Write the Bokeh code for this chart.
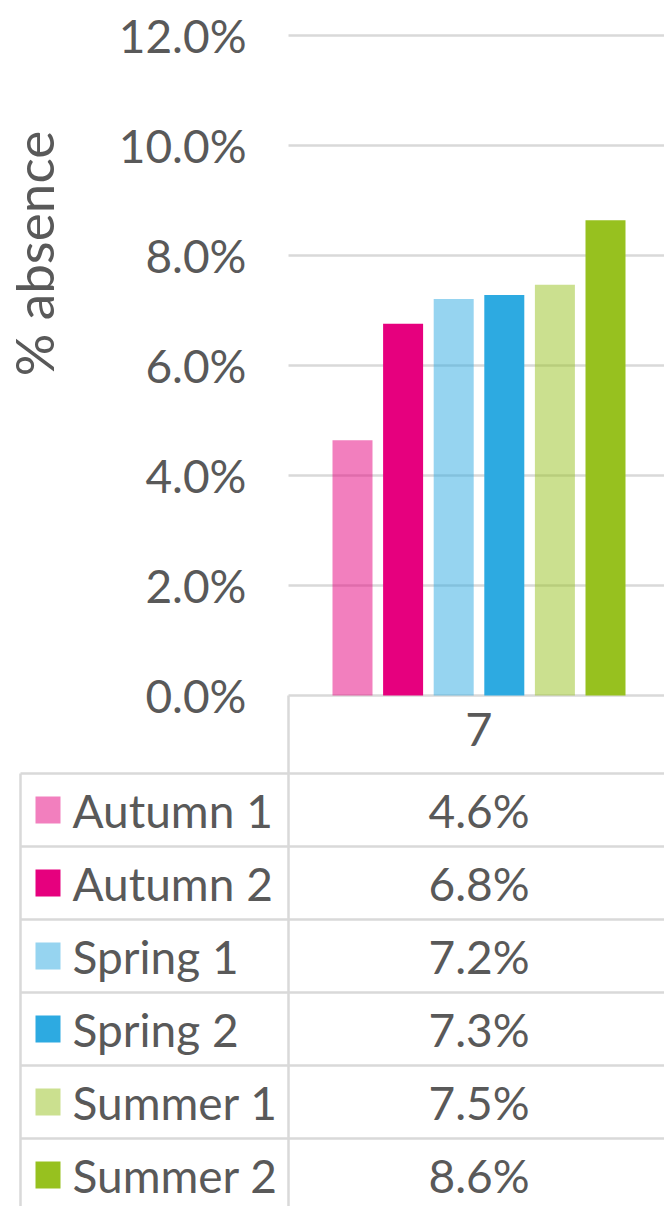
import math
from bokeh.plotting import figure
from bokeh.models import Range1d, FixedTicker, CustomJSTickFormatter, LinearAxis, ColumnDataSource, Grid
from bokeh.core.properties import value
from bokeh.embed import file_html
from bokeh.resources import INLINE

# ---- data ----
year_groups = ["7"]
terms = ["Autumn 1", "Autumn 2", "Spring 1", "Spring 2", "Summer 1", "Summer 2"]
absence = [4.64, 6.76, 7.21, 7.28, 7.47, 8.64]          # % absence, year 7
y_ticks = [0, 2, 4, 6, 8, 10, 12]
y_label = "% absence"

# ---- styles ----
colors = ["#E6007E", "#E6007E", "#2DAAE1", "#2DAAE1", "#97C11F", "#97C11F"]
alphas = [0.5, 1.0, 0.5, 1.0, 0.5, 1.0]
TXT = "#595959"
GRID = "#D9D9D9"
FONT = "Lato"

W, H = 664, 1206
PX0, PXW = 288, 381      # category column (page px)
PY0, PPU = 695, 55       # zero line (page px), px per 1 %

def xd(px):
    return (px - PX0) / PXW

def yd(py):
    return (PY0 - py) / PPU

p = figure(width=W, height=H,
           x_range=Range1d(xd(0), xd(W)), y_range=Range1d(yd(H), yd(0)),
           output_backend="svg", toolbar_location=None, tools="",
           x_axis_location=None, y_axis_location=None, min_border=0)
p.outline_line_color = None
p.background_fill_color = "white"
p.border_fill_color = "white"
p.center = [r for r in p.center if not isinstance(r, Grid)]

# gridlines (behind the bars)
p.segment(x0=[xd(288)] * len(y_ticks), x1=[xd(700)] * len(y_ticks),
          y0=y_ticks, y1=y_ticks, line_color=GRID, line_width=2.5, level="underlay")

# bars, dodged inside the single year-group column
n = len(terms)
step = 50.6 / PXW
offsets = [0.5 + (i - (n - 1) / 2) * step for i in range(n)]
bars = ColumnDataSource(dict(x=offsets, top=absence, color=colors, alpha=alphas, term=terms))
p.vbar(x="x", top="top", bottom=0, width=40 / PXW, source=bars,
       fill_color="color", fill_alpha="alpha", line_color=None)

# y axis inside the frame at the column's left edge
yax = LinearAxis(fixed_location=0, ticker=FixedTicker(ticks=y_ticks),
                 formatter=CustomJSTickFormatter(code="return tick.toFixed(1) + '%';"))
yax.axis_line_color = None
yax.major_tick_line_color = None
yax.minor_tick_line_color = None
yax.major_label_standoff = 36
yax.major_label_text_font = FONT
yax.major_label_text_font_size = "46px"
yax.major_label_text_color = TXT
p.add_layout(yax, "left")

# x axis (category label) at 0
xax = LinearAxis(fixed_location=0, ticker=FixedTicker(ticks=[0.5]),
                 major_label_overrides={0.5: year_groups[0]})
xax.axis_line_color = None
xax.major_tick_line_color = None
xax.minor_tick_line_color = None
xax.major_label_standoff = 11
xax.major_label_text_font = FONT
xax.major_label_text_font_size = "47px"
xax.major_label_text_color = TXT
p.add_layout(xax, "below")

# axis title
p.text(x=[xd(33)], y=[yd(253)], text=[y_label], angle=math.pi / 2,
       text_align="center", text_baseline="middle", text_font=value(FONT),
       text_font_size="53px", text_color=TXT)

# ---- data table ----
row_h = 73 / PPU
top0 = yd(773)
row_lines = [top0 - i * row_h for i in range(n + 1)]
p.segment(x0=[xd(20)] * len(row_lines), x1=[xd(700)] * len(row_lines),
          y0=row_lines, y1=row_lines, line_color=GRID, line_width=2.5)
p.segment(x0=[xd(20), xd(288)], x1=[xd(20), xd(288)],
          y0=[top0, 0], y1=[yd(1260), yd(1260)], line_color=GRID, line_width=2.5)

centers = [top0 - (i + 0.5) * row_h for i in range(n)]
tab = ColumnDataSource(dict(y=centers, term=terms, color=colors, alpha=alphas,
                            val=[f"{v:.1f}%" for v in absence]))
p.rect(x=xd(47.5), y="y", width=25, height=27, width_units="screen", height_units="screen",
       source=tab, fill_color="color", fill_alpha="alpha", line_color=None)
p.text(x=xd(72), y="y", text="term", source=tab, text_align="left", text_baseline="middle",
       text_font=value(FONT), text_font_size="46px", text_color=TXT)
p.text(x=0.5, y="y", text="val", source=tab, text_align="center", text_baseline="middle",
       text_font=value(FONT), text_font_size="46px", text_color=TXT)

open("out.html", "w").write(file_html(p, INLINE))
